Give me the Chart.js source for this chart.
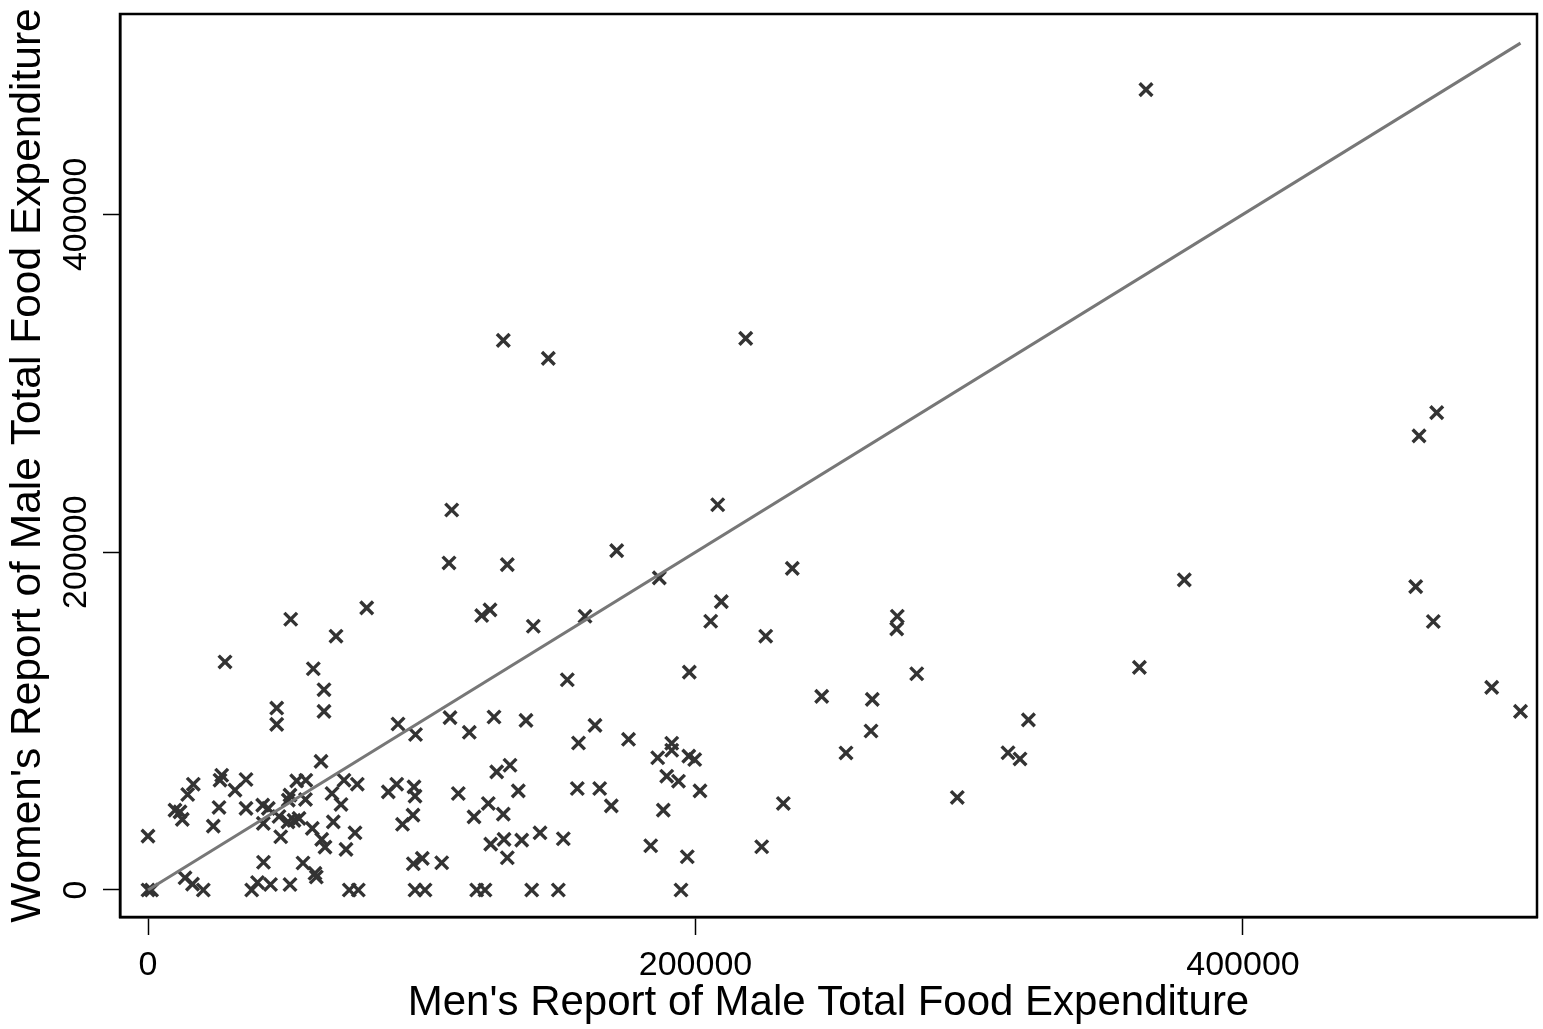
<!DOCTYPE html>
<html>
<head>
<meta charset="utf-8">
<script src="https://cdn.jsdelivr.net/npm/chart.js@4.4.1/dist/chart.umd.min.js"></script>
<style>
  html, body { margin: 0; padding: 0; background: #fff; }
</style>
</head>
<body>
<canvas id="chart" width="1543" height="1029"></canvas>
<script>
  // Men's report (x) and women's report (y) of male total food expenditure
  const menReport = [
    0, 1300, 0, 9860, 11690, 12530, 16550, 14500, 26920, 26300,
    35800, 31780, 25940, 35800, 23850, 41900, 43950, 42120, 48480, 47850,
    51140, 53330, 55160, 54320, 57650, 51870, 51250, 57530, 60020, 63450,
    64660, 63200, 67220, 67690, 42190, 56620, 61000, 61480, 13520, 16260,
    20200, 37880, 40000, 44750, 51870, 28130, 60380, 64290, 64290, 47010,
    47010, 91330, 97720, 71600, 76460, 70500, 72330, 75620, 87780, 90850,
    97170, 97540, 92970, 96800, 96920, 100200, 107290, 73530, 76820, 97540,
    101190, 120070, 123100, 140170, 149890, 194700, 197740, 153170, 110320, 126390,
    138080, 117370, 163290, 157260, 175530, 191310, 191310, 186190, 197550, 199710,
    189480, 193790, 201640, 188240, 127380, 132240, 135270, 113350, 124310, 119090,
    129790, 156820, 165000, 169240, 125190, 130050, 136510, 143200, 151710, 131250,
    183640, 196990, 110940, 109950, 131250, 52130, 68680, 79890, 121900, 124930,
    140750, 208110, 171210, 186780, 235360, 159640, 209430, 205550, 225650, 273720,
    273500, 280810, 246100, 264580, 264110, 254980, 321610, 314160, 318540, 295630,
    232080, 224180, 129790, 146230, 218340, 364560, 470760, 464300, 378560, 463090,
    469520, 362160, 490850, 501370
  ];
  const womenReport = [
    0, 0, 31900, 47260, 46260, 41770, 62620, 56540, 67940, 64990,
    65400, 59080, 48860, 48270, 37810, 50220, 48270, 39410, 31490, 43480,
    40350, 41180, 42360, 64580, 64990, 56130, 53170, 53590, 36450, 29950,
    25360, 76100, 57130, 40350, 16420, 15950, 9870, 7680, 7210, 3430,
    0, 0, 4430, 3250, 3250, 135000, 130980, 118570, 105750, 107700,
    98070, 98250, 92050, 64990, 62620, 50630, 24050, 33850, 58080, 62620,
    61030, 55540, 38880, 44310, 15540, 18730, 16130, 0, 0, 0,
    0, 0, 0, 0, 0, 0, 128970, 124480, 102030, 102390,
    100440, 93350, 97480, 87020, 89210, 86850, 82710, 78280, 79280, 77220,
    67350, 64400, 58670, 47260, 69890, 73850, 58670, 57130, 51220, 43310,
    44900, 60090, 60090, 49810, 27180, 29950, 29540, 33850, 30310, 19080,
    26170, 19670, 224970, 193600, 192600, 160280, 150240, 167020, 162470, 165840,
    156150, 228050, 200870, 184740, 190420, 162060, 170740, 159100, 150240, 162060,
    154610, 128030, 114620, 112840, 94110, 81120, 100730, 81230, 77570, 54770,
    51220, 25580, 325350, 314720, 326530, 473820, 282580, 268810, 183560, 179600,
    158930, 131750, 119930, 105750
  ];
  const xTicks = [0, 200000, 400000];
  const yTicks = [0, 200000, 400000];

  const fontFamily = '"Liberation Sans", Arial, Helvetica, sans-serif';

  // 45-degree line over the range of the men's report
  const lineMin = Math.min(...menReport);
  const lineMax = Math.max(...menReport);

  const scatterPoints = menReport.map((x, i) => ({ x: x, y: womenReport[i] }));

  // draw the full frame round the plot region
  const frame = {
    id: 'frame',
    afterDatasetsDraw(chart) {
      const { ctx, chartArea: a } = chart;
      ctx.save();
      ctx.strokeStyle = '#000';
      ctx.lineWidth = 2.5;
      ctx.strokeRect(a.left, a.top, a.right - a.left, a.bottom - a.top);
      ctx.restore();
    },
  };

  new Chart(document.getElementById('chart'), {
    type: 'scatter',
    data: {
      datasets: [
        {
          type: 'line',
          label: '45 degree line',
          data: [{ x: lineMin, y: lineMin }, { x: lineMax, y: lineMax }],
          borderColor: '#777777',
          borderWidth: 3,
          pointRadius: 0,
          fill: false,
        },
        {
          label: 'Reports',
          data: scatterPoints,
          pointStyle: 'crossRot',
          pointRadius: 9,
          borderWidth: 3.4,
          borderColor: '#333333',
          backgroundColor: '#333333',
        },
      ],
    },
    options: {
      responsive: false,
      animation: false,
      layout: { autoPadding: false, padding: { top: 14, right: 6, left: 0, bottom: 0 } },
      plugins: {
        legend: { display: false },
        tooltip: { enabled: false },
      },
      scales: {
        x: {
          type: 'linear',
          min: -10230,
          max: 507400,
          afterBuildTicks: (s) => { s.ticks = xTicks.map((v) => ({ value: v })); },
          afterFit: (s) => { s.height = 112; },
          grid: { drawOnChartArea: false, tickLength: 18, tickColor: '#000', tickWidth: 1.5 },
          border: { color: '#000', width: 2.5 },
          ticks: {
            color: '#000',
            font: { family: fontFamily, size: 34 },
            padding: 10,
            maxRotation: 0,
            callback: (v) => String(v),
          },
          title: {
            display: true,
            text: "Men's Report of Male Total Food Expenditure",
            color: '#000',
            font: { family: fontFamily, size: 42 },
            padding: { top: 0, bottom: 0 },
          },
        },
        y: {
          type: 'linear',
          min: -16000,
          max: 518600,
          afterBuildTicks: (s) => { s.ticks = yTicks.map((v) => ({ value: v })); },
          afterFit: (s) => { s.width = 120; },
          grid: { drawOnChartArea: false, tickLength: 17, tickColor: '#000', tickWidth: 1.5 },
          border: { color: '#000', width: 2.5 },
          ticks: {
            color: '#000',
            font: { family: fontFamily, size: 34 },
            minRotation: 90,
            maxRotation: 90,
            crossAlign: 'center',
            padding: -30,
            callback: (v) => String(v),
          },
          title: {
            display: true,
            text: "Women's Report of Male Total Food Expenditure",
            color: '#000',
            font: { family: fontFamily, size: 42.5 },
            padding: { top: 3, bottom: 0 },
          },
        },
      },
    },
    plugins: [frame],
  });
</script>
</body>
</html>
